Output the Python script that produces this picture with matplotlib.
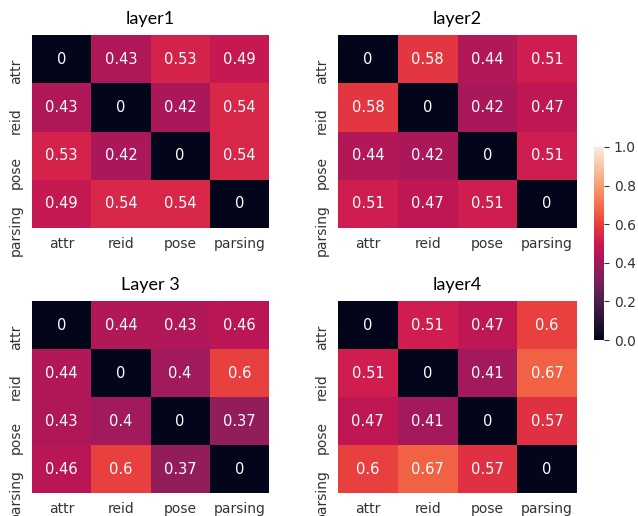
import numpy as np
import matplotlib
matplotlib.use('Agg')
import matplotlib.pyplot as plt
import seaborn as sns

tareas = ['attr', 'reid', 'pose', 'parsing']
titulos = ['layer1', 'layer2', 'Layer 3', 'layer4']

capa1 = [[0, 0.43, 0.53, 0.49],
         [0.43, 0, 0.42, 0.54],
         [0.53, 0.42, 0, 0.54],
         [0.49, 0.54, 0.54, 0]]
capa2 = [[0, 0.58, 0.44, 0.51],
         [0.58, 0, 0.42, 0.47],
         [0.44, 0.42, 0, 0.51],
         [0.51, 0.47, 0.51, 0]]
capa3 = [[0, 0.44, 0.43, 0.46],
         [0.44, 0, 0.4, 0.6],
         [0.43, 0.4, 0, 0.37],
         [0.46, 0.6, 0.37, 0]]
capa4 = [[0, 0.51, 0.47, 0.6],
         [0.51, 0, 0.41, 0.67],
         [0.47, 0.41, 0, 0.57],
         [0.6, 0.67, 0.57, 0]]


def main():
    plt.rcParams['font.family'] = ['DejaVu Sans']
    W, H = 638, 516
    fig = plt.figure(figsize=(W / 100, H / 100), dpi=100)

    # posiciones en pixeles: (x0, y0 arriba, x1, y1 abajo)
    cajas = [(32, 35, 269, 228), (338, 35, 577, 228),
             (32, 301, 269, 493), (338, 301, 577, 493)]
    cax = fig.add_axes([594 / W, 1 - 340 / H, 10 / W, 193 / H])

    for i, (datos, titulo) in enumerate(zip([capa1, capa2, capa3, capa4], titulos)):
        x0, y0, x1, y1 = cajas[i]
        ax = fig.add_axes([x0 / W, 1 - y1 / H, (x1 - x0) / W, (y1 - y0) / H])
        sns.heatmap(np.array(datos), ax=ax, vmin=0, vmax=1, annot=True,
                    annot_kws={'size': 10.5},
                    xticklabels=tareas, yticklabels=tareas,
                    cbar=(i == 0), cbar_ax=cax if i == 0 else None)
        ax.set_title(titulo, family=['Lato', 'DejaVu Sans'], fontsize=13, pad=8)
        ax.tick_params(axis='x', length=0, labelsize=10, pad=6.5)
        ax.tick_params(axis='y', length=0, labelsize=10, pad=11.5)
        for t in ax.get_xticklabels():
            t.set_color('#333333')
        # etiquetas verticales colgando hacia abajo desde el centro de la fila
        for t in ax.get_yticklabels():
            t.set_color('#333333')
            t.set_rotation(90)
            t.set_rotation_mode('anchor')
            t.set_ha('right')
            t.set_va('center')

    cax.tick_params(labelsize=10, colors='#333333')
    fig.savefig('out.png', dpi=100)


if __name__ == '__main__':
    main()
